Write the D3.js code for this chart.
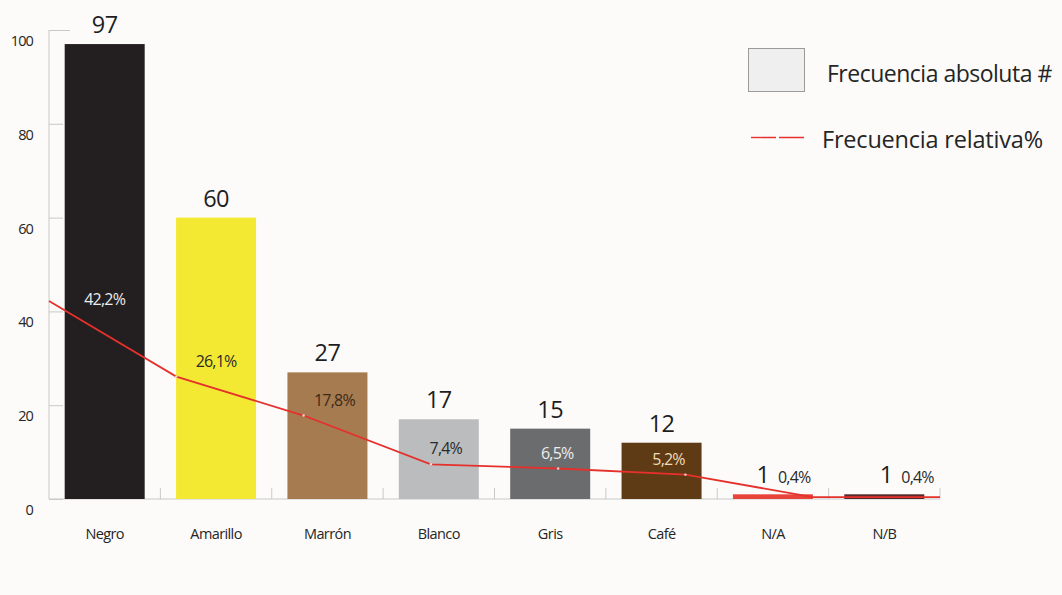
<!DOCTYPE html>
<html>
<head>
<meta charset="utf-8">
<script src="https://cdn.jsdelivr.net/npm/d3@7"></script>
<style>
  html, body { margin: 0; padding: 0; background: #fcfbfa; }
  svg { display: block; font-family: "Open Sans", "Noto Sans", sans-serif; }
</style>
</head>
<body>
<svg id="chart" width="1062" height="595"></svg>
<script>
// Color counts and their share of the total
const categories = ["Negro", "Amarillo", "Marrón", "Blanco", "Gris", "Café", "N/A", "N/B"];
const absoluteFreq = [97, 60, 27, 17, 15, 12, 1, 1];
const relativeFreq = [42.2, 26.1, 17.8, 7.4, 6.5, 5.2, 0.4, 0.4];
const yTicks = [0, 20, 40, 60, 80, 100];

// Palette
const barColors = ["#231f20", "#f4e932", "#a67b4f", "#bbbcbe", "#6b6c6e", "#5e3a15", "#e8443a", "#5a2828"];
const pctColors = ["#ececec", "#2a2a2a", "#3b2a1a", "#2a2a2a", "#ececec", "#f1dcb5", "#2a2a2a", "#2a2a2a"];
const lineColor = "#e5302c";
const axisColor = "#c9c9c9";
const textColor = "#252525";

const svg = d3.select("#chart");
const fmt = v => String(v).replace(".", ",") + "%";

const y = d3.scaleLinear().domain([0, 100]).range([499, 30]);
const xBand = d3.scaleBand().domain(categories).range([49, 940]).padding(0);
const xPoint = d3.scalePoint().domain(categories).range([49, 940]).padding(0);
const barW = 80;
const cx = c => xBand(c) + xBand.bandwidth() / 2;

// Y axis: vertical rule, short ticks pointing right, labels set slightly below each tick
const yAxis = svg.append("g").attr("transform", "translate(49,0)")
  .call(d3.axisRight(y).tickValues(yTicks).tickSize(14).tickFormat(""));
yAxis.select(".domain").attr("stroke", axisColor).attr("d", `M0,${y(0)}V${y(100)}`);
yAxis.selectAll(".tick line").attr("stroke", axisColor)
  .attr("x2", d => d === 100 ? 21 : 14);
svg.append("g").selectAll("text").data(yTicks).join("text")
  .attr("x", 33).attr("y", d => y(d) + 16)
  .attr("text-anchor", "end").attr("font-size", 14.5).attr("fill", textColor)
  .attr("letter-spacing", -0.9)
  .text(d => d);

// X axis: baseline with short upward ticks at band boundaries
const boundaries = categories.map(c => xBand(c) + xBand.bandwidth());
svg.append("line").attr("x1", 49).attr("x2", 940).attr("y1", y(0)).attr("y2", y(0))
  .attr("stroke", axisColor);
svg.append("g").selectAll("line").data(boundaries).join("line")
  .attr("x1", d => d).attr("x2", d => d).attr("y1", y(0)).attr("y2", y(0) - 11)
  .attr("stroke", axisColor);
svg.append("g").selectAll("text").data(categories).join("text")
  .attr("x", c => cx(c)).attr("y", 539)
  .attr("text-anchor", "middle").attr("font-size", 14.5).attr("fill", textColor)
  .attr("letter-spacing", -0.6)
  .text(c => c);

// Bars
svg.append("g").selectAll("rect").data(categories).join("rect")
  .attr("x", c => cx(c) - barW / 2).attr("width", barW)
  .attr("y", (c, i) => y(absoluteFreq[i]))
  .attr("height", (c, i) => y(0) - y(absoluteFreq[i]))
  .attr("fill", (c, i) => barColors[i]);

// Absolute frequency labels above bars (tiny bars get the number offset left)
const small = v => v < 5;
const numX = (c, i) => small(absoluteFreq[i]) ? cx(c) - (i === 6 ? 10 : -2) : cx(c);
svg.append("g").selectAll("text").data(categories).join("text")
  .attr("x", numX)
  .attr("y", (c, i) => small(absoluteFreq[i]) ? 483 : y(absoluteFreq[i]) - 11)
  .attr("text-anchor", "middle").attr("font-size", 23.5).attr("fill", "#1e1e1e")
  .attr("letter-spacing", -0.5)
  .text((c, i) => absoluteFreq[i]);

// Relative frequency line
const line = d3.line().x((d, i) => xPoint(categories[i])).y(d => y(d));
svg.append("path").datum(relativeFreq)
  .attr("d", line).attr("fill", "none")
  .attr("stroke", lineColor).attr("stroke-width", 1.8);
svg.append("g").selectAll("circle").data(relativeFreq.slice(1, 6)).join("circle")
  .attr("cx", (d, i) => xPoint(categories[i + 1])).attr("cy", d => y(d))
  .attr("r", 1.2).attr("fill", "#f6d6d2");

// Relative frequency labels
svg.append("g").selectAll("text").data(categories).join("text")
  .attr("x", (c, i) => small(absoluteFreq[i]) ? numX(c, i) + 15 : cx(c) + (i < 2 ? 0 : 7))
  .attr("y", (c, i) => small(absoluteFreq[i]) ? 483 : (i === 0 ? y(relativeFreq[i]) + 4 : y(relativeFreq[i]) - 10))
  .attr("text-anchor", (c, i) => small(absoluteFreq[i]) ? "start" : "middle")
  .attr("font-size", 16).attr("fill", (c, i) => pctColors[i])
  .attr("letter-spacing", -0.8)
  .text((c, i) => fmt(relativeFreq[i]));

// Legend
const legend = svg.append("g");
legend.append("rect").attr("x", 748.5).attr("y", 48.5).attr("width", 56).attr("height", 43)
  .attr("fill", "#efeff0").attr("stroke", "#9a9a9a");
legend.append("text").attr("x", 827).attr("y", 82)
  .attr("font-size", 23).attr("fill", textColor).attr("letter-spacing", -0.5)
  .text("Frecuencia absoluta #");
legend.append("line").attr("x1", 751).attr("x2", 806).attr("y1", 137.5).attr("y2", 137.5)
  .attr("stroke", lineColor).attr("stroke-width", 1.4).attr("stroke-dasharray", "25,3");
legend.append("text").attr("x", 822).attr("y", 148)
  .attr("font-size", 23.5).attr("fill", textColor).attr("letter-spacing", -0.2)
  .text("Frecuencia relativa%");
</script>
</body>
</html>
